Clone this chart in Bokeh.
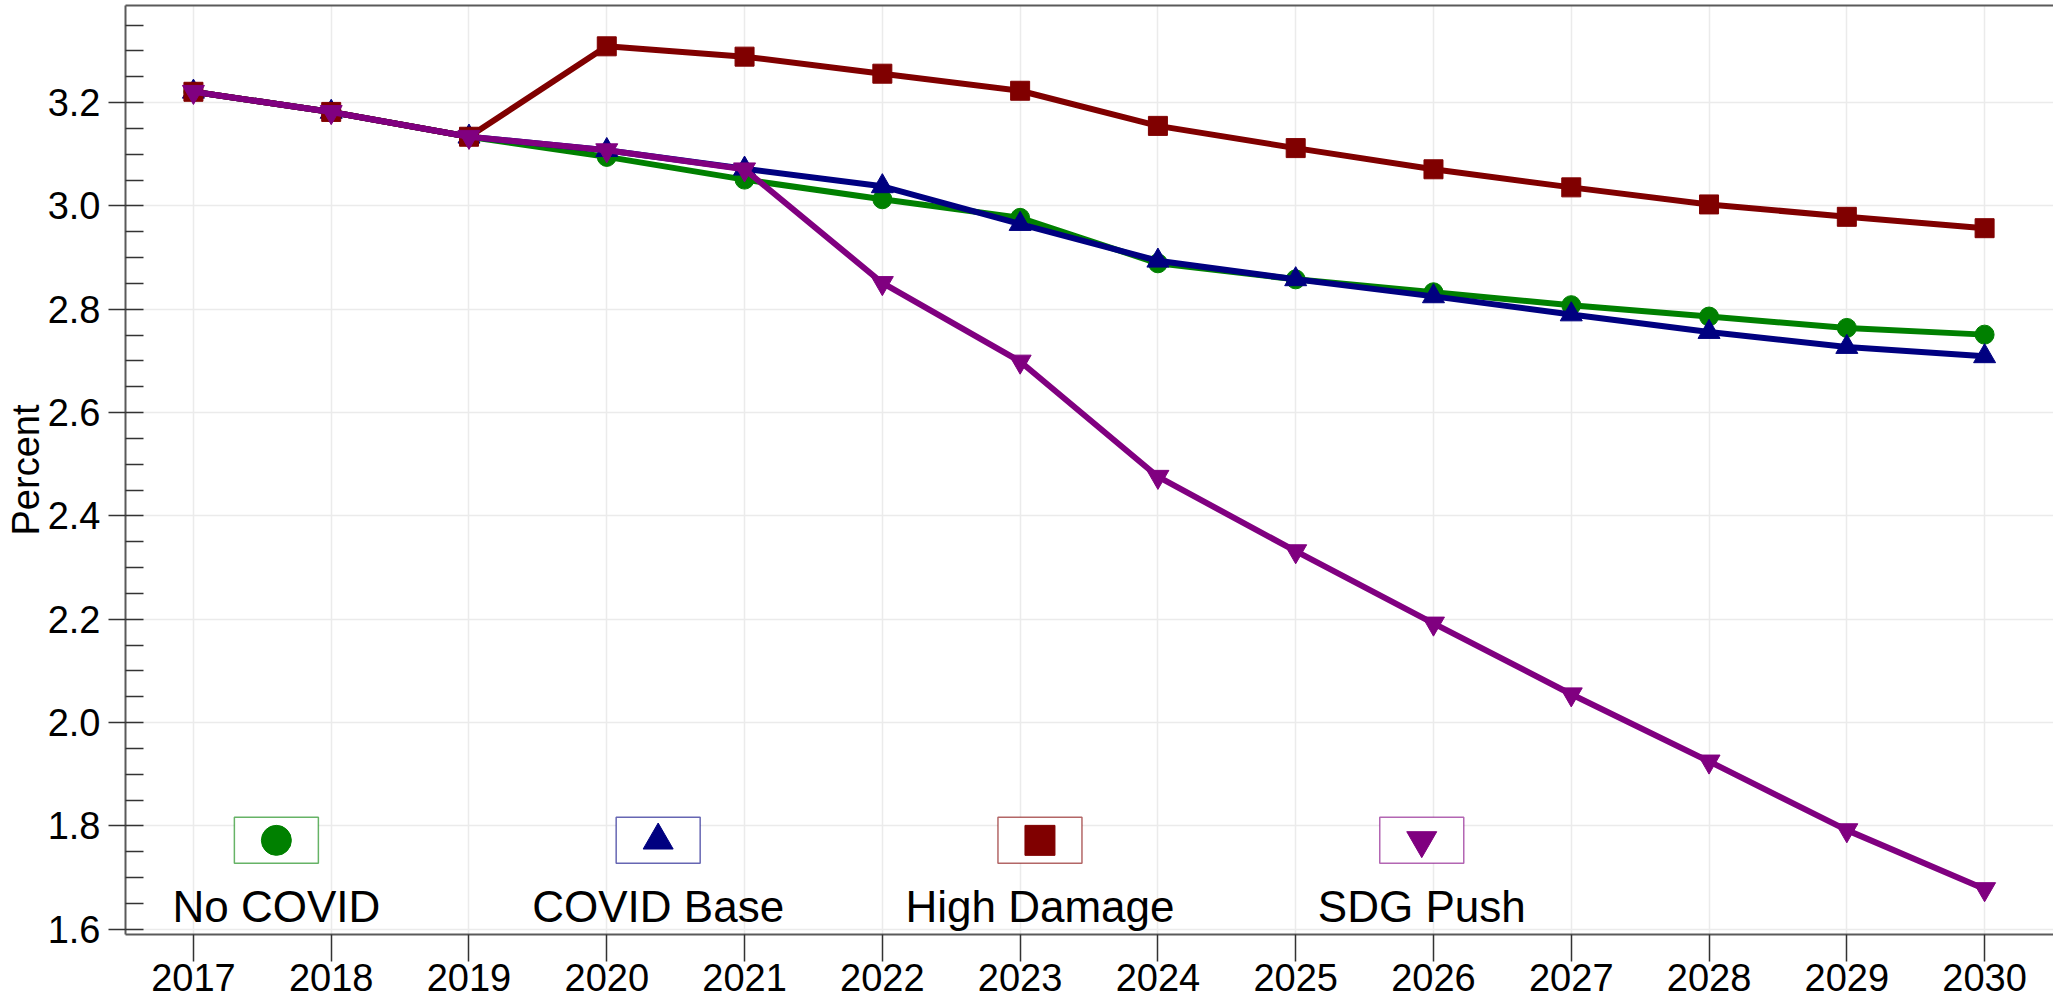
from bokeh.plotting import figure
from bokeh.models import (Range1d, FixedTicker, SingleIntervalTicker, PrintfTickFormatter,
                          LinearAxis, Grid)
from bokeh.core.properties import value
from bokeh.embed import file_html
from bokeh.resources import INLINE

# ---------------- data ----------------
years = list(range(2017, 2031))
no_covid    = [3.221, 3.182, 3.134, 3.095, 3.051, 3.013, 2.977, 2.889, 2.858, 2.833, 2.808, 2.786, 2.764, 2.751]
covid_base  = [3.221, 3.182, 3.134, 3.108, 3.072, 3.038, 2.965, 2.894, 2.858, 2.825, 2.790, 2.756, 2.727, 2.709]
high_damage = [3.221, 3.182, 3.134, 3.309, 3.289, 3.256, 3.223, 3.155, 3.112, 3.071, 3.036, 3.003, 2.979, 2.957]
sdg_push    = [3.221, 3.182, 3.134, 3.108, 3.071, 2.851, 2.699, 2.476, 2.332, 2.192, 2.055, 1.925, 1.792, 1.678]

series_names   = ["No COVID", "COVID Base", "High Damage", "SDG Push"]
series_values  = [no_covid, covid_base, high_damage, sdg_push]
series_colors  = ["#008000", "#000080", "#800000", "#800080"]
series_markers = ["circle", "triangle", "square", "inverted_triangle"]
marker_sizes   = [19, 22, 19, 22]

y_tick_step = 0.2
x_ticks = years
y_axis_title = "Percent"

# ---------------- layout constants ----------------
FONT = "Liberation Sans"
X_START, X_END = 2016.507, 2030.5
Y_START, Y_END = 1.59, 3.388

p = figure(width=2053, height=1001, output_backend="svg", toolbar_location=None,
           x_range=Range1d(X_START, X_END), y_range=Range1d(Y_START, Y_END),
           min_border_left=125, min_border_bottom=67, min_border_top=5, min_border_right=0,
           x_axis_type=None, y_axis_type=None)
p.outline_line_color = None
p.background_fill_color = "white"
p.border_fill_color = "white"

AX_COL = "#5a5a5a"

# bottom axis
xaxis = LinearAxis(ticker=FixedTicker(ticks=x_ticks, minor_ticks=[]),
                   formatter=PrintfTickFormatter(format="%d"))
xaxis.axis_line_color = AX_COL
xaxis.axis_line_width = 2
xaxis.major_tick_out = 27
xaxis.major_tick_in = 0
xaxis.major_tick_line_color = "#333333"
xaxis.major_tick_line_width = 1.5
xaxis.major_label_standoff = 2
xaxis.major_label_text_line_height = 1.0
xaxis.major_label_text_font = FONT
xaxis.major_label_text_font_size = "38px"
xaxis.major_label_text_color = "black"
p.add_layout(xaxis, "below")

# left axis
yaxis = LinearAxis(ticker=SingleIntervalTicker(interval=y_tick_step, num_minor_ticks=4),
                   formatter=PrintfTickFormatter(format="%.1f"))
yaxis.axis_line_color = AX_COL
yaxis.axis_line_width = 2
yaxis.major_tick_out = 17
yaxis.major_tick_in = 0
yaxis.minor_tick_in = 18
yaxis.minor_tick_out = 0
yaxis.major_tick_line_color = "#333333"
yaxis.minor_tick_line_color = "#333333"
yaxis.major_tick_line_width = 1.5
yaxis.minor_tick_line_width = 1.5
yaxis.major_label_standoff = 8
yaxis.major_label_text_font = FONT
yaxis.major_label_text_font_size = "38px"
yaxis.major_label_text_color = "black"
yaxis.axis_label = y_axis_title
yaxis.axis_label_standoff = -2
yaxis.axis_label_text_font = FONT
yaxis.axis_label_text_font_size = "38px"
yaxis.axis_label_text_font_style = "normal"
yaxis.axis_label_text_color = "black"
p.add_layout(yaxis, "left")

# top border line
top = LinearAxis(ticker=FixedTicker(ticks=[]))
top.axis_line_color = AX_COL
top.axis_line_width = 2
top.major_tick_out = 0
top.major_tick_in = 0
top.minor_tick_out = 0
top.minor_tick_in = 0
p.add_layout(top, "above")

# grids
p.add_layout(Grid(dimension=0, ticker=xaxis.ticker, grid_line_color="#ebebeb", grid_line_width=1.5))
p.add_layout(Grid(dimension=1, ticker=yaxis.ticker, grid_line_color="#ebebeb", grid_line_width=1.5))

# series
for name, vals, col, mk, ms in zip(series_names, series_values, series_colors, series_markers, marker_sizes):
    p.line(years, vals, line_color=col, line_width=6)
    p.scatter(years, vals, marker=mk, size=ms, fill_color=col, line_color=col)

# custom legend (boxes with marker, label beneath)
LEG_X0, LEG_DX = 2017.602, 2.771
LEG_BOX_Y, LEG_TEXT_Y = 1.7722, 1.6445
for i, (name, col, mk) in enumerate(zip(series_names, series_colors, series_markers)):
    lx = LEG_X0 + i * LEG_DX
    p.rect([lx], [LEG_BOX_Y], width=84, height=46, width_units="screen", height_units="screen",
           fill_color="white", line_color=col, line_alpha=0.6, line_width=1.5)
    p.scatter([lx], [LEG_BOX_Y], marker=mk, size=30, fill_color=col, line_color=col)
    p.text([lx], [LEG_TEXT_Y], text=[name], text_align="center", text_baseline="alphabetic",
           text_font=value(FONT), text_font_size="44px", text_color="black")

open("out.html", "w").write(file_html(p, INLINE))
